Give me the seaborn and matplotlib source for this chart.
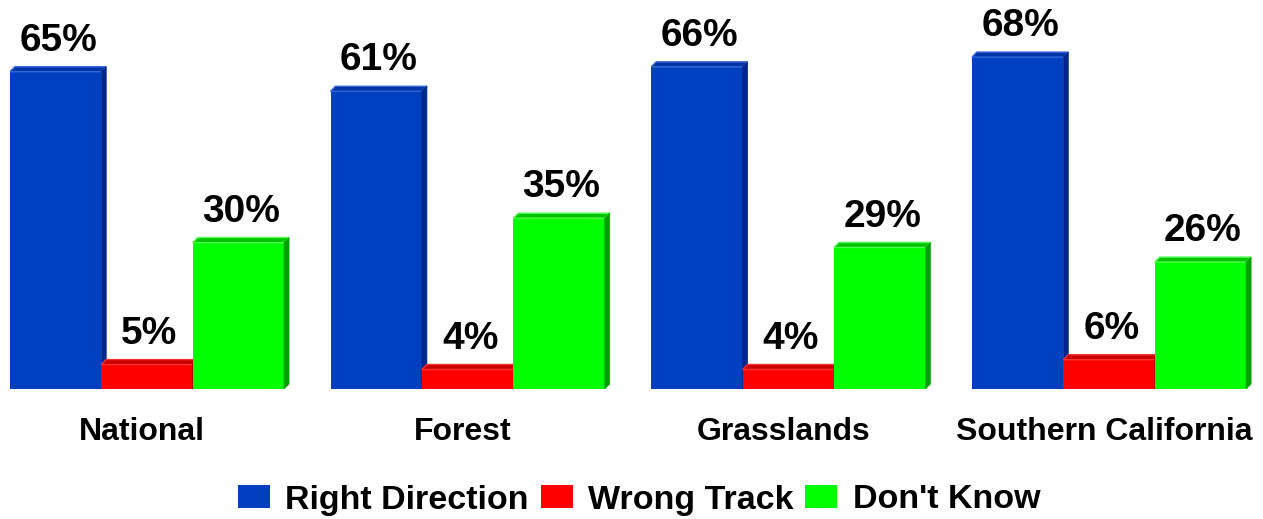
import numpy as np
import pandas as pd
import matplotlib
matplotlib.use("Agg")
import matplotlib.pyplot as plt
import matplotlib.transforms as mtransforms
from matplotlib.patches import Polygon, Patch
import seaborn as sns

# Survey answers per region (percent)
regions = ["National", "Forest", "Grasslands", "Southern California"]
answers = ["Right Direction", "Wrong Track", "Don't Know"]
right_direction = [65, 61, 66, 68]
wrong_track = [5, 4, 4, 6]
dont_know = [30, 35, 29, 26]

front_colors = ["#0040C0", "#FF0000", "#00FF00"]
top_colors = ["#0035A8", "#C80000", "#00C400"]
side_colors = ["#00288A", "#A00000", "#00A000"]
edge_colors = ["#3366D6", "#FF3030", "#50FF50"]

df = pd.DataFrame({
    "Region": regions,
    answers[0]: right_direction,
    answers[1]: wrong_track,
    answers[2]: dont_know,
})
long_df = df.melt(id_vars="Region", var_name="Answer", value_name="Percent")

sns.set_theme(style="white")
plt.rcParams["font.family"] = ["Liberation Sans", "DejaVu Sans"]

fig = plt.figure(figsize=(12.63, 5.19), dpi=100)
ax = fig.add_axes([10 / 1263, 130 / 519, 1243 / 1263, 389 / 519])

sns.barplot(
    data=long_df, x="Region", y="Percent", hue="Answer",
    order=regions, hue_order=answers, palette=front_colors,
    width=0.855, gap=0, saturation=1, errorbar=None,
    linewidth=0, legend=False, ax=ax,
)
ax.set_xlim(-0.427, 3.449)
ax.set_ylim(0, 79.7)

# pseudo-3D depth, 5 px right and 5 px up
depth_px = 5
p0 = ax.transData.transform((0, 0))
p1 = ax.transData.transform((1, 1))
dx = depth_px / (p1[0] - p0[0])
dy = depth_px / (p1[1] - p0[1])

bars = []
for k, cont in enumerate(ax.containers):
    for bar in cont:
        bars.append((bar.get_x(), k, bar))
bars.sort(key=lambda t: t[0])

for rank, (_, k, bar) in enumerate(bars):
    x, w, h = bar.get_x(), bar.get_width(), bar.get_height()
    z = 10 + 3 * rank
    bar.set_zorder(z)
    top = Polygon([(x, h), (x + dx, h + dy), (x + w + dx, h + dy), (x + w, h)],
                  closed=True, facecolor=top_colors[k], edgecolor=edge_colors[k],
                  linewidth=1, zorder=z + 1)
    side = Polygon([(x + w, 0), (x + w + dx, dy), (x + w + dx, h + dy), (x + w, h)],
                   closed=True, facecolor=side_colors[k], edgecolor=side_colors[k],
                   linewidth=0.5, zorder=z + 2)
    ax.add_patch(top)
    ax.add_patch(side)
    ax.annotate(f"{h:.0f}%", xy=(x + w / 2 + dx / 2, h), xytext=(0, 15),
                textcoords="offset points", ha="center", va="baseline",
                fontsize=28, fontweight="bold", color="black", zorder=100)

ax.set_xlabel("")
ax.set_ylabel("")
ax.set_yticks([])
ax.tick_params(axis="x", length=0, pad=20)
for lbl in ax.get_xticklabels():
    lbl.set_fontsize(23)
    lbl.set_fontweight("bold")
    lbl.set_color("black")
    lbl.set_transform(lbl.get_transform() +
                      mtransforms.ScaledTranslation(-5 / 100, 0, fig.dpi_scale_trans))
for s in ax.spines.values():
    s.set_visible(False)

handles = [Patch(facecolor=c, edgecolor="none", label=a) for c, a in zip(front_colors, answers)]
fig.legend(handles=handles, loc="center", bbox_to_anchor=(639 / 1263, 19 / 519),
           ncol=3, frameon=False, prop=dict(weight="bold", size=24.5),
           labelcolor="black", handlelength=0.94, handleheight=0.645,
           handletextpad=0.45, columnspacing=0.35, borderaxespad=0, borderpad=0)

fig.savefig("out.png", dpi=100)
